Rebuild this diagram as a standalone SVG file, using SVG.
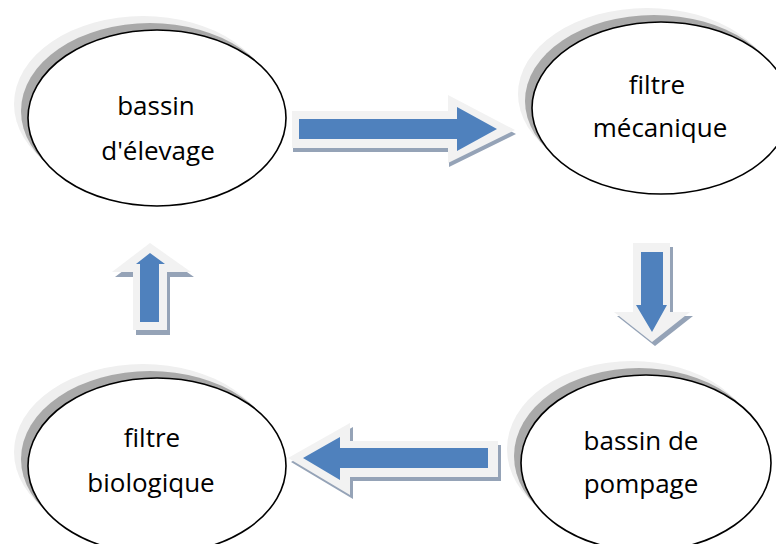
<svg xmlns="http://www.w3.org/2000/svg" width="776" height="544" viewBox="0 0 776 544">
<style>
.sh1{fill:#efefef}
.sh2{fill:#a9a9a9}
.el{fill:#ffffff;stroke:#000000;stroke-width:1.6}
.t{font-family:"Open Sans","Noto Sans",sans-serif;font-size:26px;fill:#000000;text-anchor:middle}
.ao{fill:#f2f2f2}
.ab{fill:#4f81bd}
.as{fill:#95a3b7}
</style>
<rect width="776" height="544" fill="#ffffff"/>
<g id="bassin-elevage">
<ellipse class="sh1" cx="143" cy="104" rx="129" ry="88"/>
<ellipse class="sh2" cx="150" cy="111" rx="129" ry="88"/>
<ellipse class="el" cx="157" cy="118" rx="129" ry="88"/>
<text class="t" x="156" y="115">bassin</text>
<text class="t" x="158" y="160">d'élevage</text>
</g>
<g id="filtre-mecanique">
<ellipse class="sh1" cx="647" cy="94" rx="129" ry="86"/>
<ellipse class="sh2" cx="654" cy="101" rx="129" ry="86"/>
<ellipse class="el" cx="661" cy="108" rx="129" ry="86"/>
<text class="t" x="657" y="94">filtre</text>
<text class="t" x="660" y="137">mécanique</text>
</g>
<g id="bassin-pompage">
<ellipse class="sh1" cx="632" cy="449" rx="125" ry="88"/>
<ellipse class="sh2" cx="639" cy="456" rx="125" ry="88"/>
<ellipse class="el" cx="646" cy="463" rx="125" ry="88"/>
<text class="t" x="641" y="450">bassin de</text>
<text class="t" x="641" y="493">pompage</text>
</g>
<g id="filtre-biologique">
<ellipse class="sh1" cx="143" cy="452" rx="129" ry="88"/>
<ellipse class="sh2" cx="150" cy="459" rx="129" ry="88"/>
<ellipse class="el" cx="157" cy="466" rx="129" ry="88"/>
<text class="t" x="152" y="447">filtre</text>
<text class="t" x="151" y="492">biologique</text>
</g>
<g id="connectors">
<g id="arrow-right">
<polygon class="as" transform="translate(1,4)" points="292,111 448,111 448,95 515,130 448,163 448,148 292,148"/>
<polygon class="ao" points="292,111 448,111 448,95 515,130 448,163 448,148 292,148"/>
<polygon class="ab" points="299,119 457,119 457,107 497,129 457,151 457,139 299,139"/>
</g>
<g id="arrow-down">
<polygon class="as" transform="translate(3,4)" points="633,243 670,243 670,312 690,312 652,342 614,312 633,312"/>
<polygon class="ao" points="633,243 670,243 670,312 690,312 652,342 614,312 633,312"/>
<polygon class="ab" points="641,252 663,252 663,305 667,305 652,332 636,305 641,305"/>
</g>
<g id="arrow-left">
<polygon class="as" transform="translate(3,4)" points="498,441 350,441 350,423 288,458 350,495 350,477 498,477"/>
<polygon class="ao" points="498,441 350,441 350,423 288,458 350,495 350,477 498,477"/>
<polygon class="ab" points="488,448 340,448 340,437 303,458 340,480 340,468 488,468"/>
</g>
<g id="arrow-up">
<polygon class="as" transform="translate(3,5)" points="133,330 133,272 112,272 150,243 191,272 167,272 167,330"/>
<polygon class="ao" points="133,330 133,272 112,272 150,243 191,272 167,272 167,330"/>
<polygon class="ab" points="140,322 140,264 136,264 150,253 165,264 159,264 159,322"/>
</g>
</g>
</svg>
